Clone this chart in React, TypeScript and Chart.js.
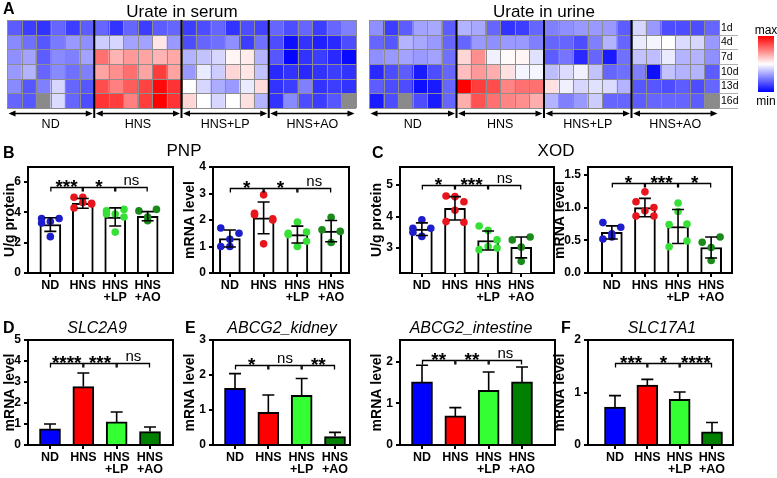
import React, { useEffect, useRef } from 'react';
import { Chart, registerables } from 'chart.js';

Chart.register(...registerables);

const FONT = '"Liberation Sans", Arial, Helvetica, sans-serif';

// ---------------- Heatmap data (0 = min, 1 = max, null = missing) ----------------
const DAYS = ['1d', '4d', '7d', '10d', '13d', '16d'];
const GROUPS = ['ND', 'HNS', 'HNS+LP', 'HNS+AO'];

const SERUM_1D = [0.18, 0.12, 0.1, 0.2, 0.12, 0.18, 0.2, 0.1, 0.2, 0.12, 0.18, 0.2, 0.12, 0.15, 0.2, 0.1, 0.15, 0.13, 0.2, 0.15, 0.2, 0.12, 0.2, 0.25];
const SERUM_4D = [0.27, 0.22, 0.17, 0.24, 0.3, 0.28, 0.4, 0.42, 0.32, 0.32, 0.55, 0.3, 0.15, 0.2, 0.22, 0.28, 0.12, 0.22, 0.15, 0.03, 0.1, 0.06, 0.08, 0.15];
const SERUM_7D = [0.28, 0.32, 0.18, 0.27, 0.25, 0.32, 0.78, 0.65, 0.7, 0.68, 0.65, 0.67, 0.35, 0.38, 0.42, 0.52, 0.54, 0.35, 0.17, 0.01, 0.1, 0.12, 0.08, 0.02];
const SERUM_10D = [0.3, 0.35, 0.2, 0.27, 0.22, 0.25, 0.68, 0.72, 0.78, 0.68, 0.88, 0.68, 0.3, 0.46, 0.4, 0.58, 0.55, 0.38, 0.08, 0.1, 0.08, 0.1, 0.12, 0.1];
const SERUM_13D = [0.27, 0.17, 0.25, 0.42, 0.2, 0.17, 0.85, 0.75, 0.82, 0.87, 0.98, 0.9, 0.5, 0.42, 0.34, 0.3, 0.46, 0.57, 0.1, 0.12, 0.25, 0.1, 0.12, 0.1];
const SERUM_16D = [0.2, 0.17, null, 0.43, 0.2, 0.15, 0.9, 0.88, 0.75, 0.88, 1.0, 0.9, 0.58, 0.5, 0.42, 0.5, 0.56, 0.35, 0.1, 0.27, 0.15, 0.12, 0.17, null];

const URINE_1D = [0.28, 0.12, 0.18, 0.32, 0.33, 0.18, 0.35, 0.33, 0.2, 0.1, 0.12, 0.2, 0.25, 0.28, 0.3, 0.3, 0.3, 0.18, 0.42, 0.3, 0.15, 0.15, 0.15, 0.2];
const URINE_4D = [0.2, 0.17, 0.35, 0.33, 0.3, 0.2, 0.2, 0.3, 0.28, 0.3, 0.3, 0.25, 0.2, 0.2, 0.15, 0.25, 0.35, 0.2, 0.46, 0.48, 0.5, 0.43, 0.42, 0.3];
const URINE_7D = [0.28, 0.3, 0.32, 0.3, 0.32, 0.22, 0.58, 0.72, 0.47, 0.51, 0.52, 0.44, 0.18, 0.23, 0.08, 0.2, 0.05, 0.22, 0.38, 0.37, 0.46, 0.35, 0.35, 0.28];
const URINE_10D = [0.08, 0.15, 0.18, 0.05, 0.15, 0.2, 0.63, 0.7, 0.66, 0.56, 0.48, 0.48, 0.37, 0.43, 0.47, 0.38, 0.2, 0.22, 0.25, 0.03, 0.38, 0.35, 0.35, 0.18];
const URINE_13D = [0.18, 0.15, 0.15, 0.03, 0.05, 0.2, 1.0, 0.88, 0.85, 0.74, 0.78, 0.78, 0.56, 0.47, 0.42, 0.44, 0.43, 0.35, 0.17, 0.17, 0.15, 0.18, 0.15, 0.2];
const URINE_16D = [0.05, 0.15, null, 0.15, 0.05, 0.2, 0.66, 0.84, 0.78, 0.74, 0.72, 0.66, 0.35, 0.25, 0.3, 0.4, 0.2, 0.2, 0.18, 0.2, 0.2, 0.2, 0.18, null];

const SERUM_ROWS = [SERUM_1D, SERUM_4D, SERUM_7D, SERUM_10D, SERUM_13D, SERUM_16D];
const URINE_ROWS = [URINE_1D, URINE_4D, URINE_7D, URINE_10D, URINE_13D, URINE_16D];

// ---------------- Bar chart data ----------------
const X_LABELS = [['ND'], ['HNS'], ['HNS', '+LP'], ['HNS', '+AO']];

const PNP_PROT_MEAN = [3.2, 4.6, 3.7, 3.75];
const PNP_PROT_SD = [0.45, 0.32, 0.6, 0.3];
const PNP_PROT_PTS = [[3.6, 3.6, 3.4, 2.4, 3.3], [5.0, 4.6, 5.0, 4.65, 4.3, 4.55], [4.1, 4.2, 3.9, 2.7, 3.9, 3.7], [4.1, 4.2, 3.7, 3.45]];
const PNP_PROT_SIG = ['***', '*', 'ns'];
const PNP_PROT_TICKS = [0, 2, 4, 6];

const PNP_MRNA_MEAN = [1.3, 2.08, 1.45, 1.58];
const PNP_MRNA_SD = [0.32, 0.6, 0.32, 0.4];
const PNP_MRNA_PTS = [[1.7, 1.5, 1.27, 1.0, 1.0], [2.25, 2.05, 2.95, 1.1, 2.2, 2.0], [1.5, 1.55, 1.92, 1.0, 1.45, 1.2], [1.63, 1.57, 2.1, 1.15]];
const PNP_MRNA_SIG = ['*', '*', 'ns'];
const PNP_MRNA_TICKS = [0, 1, 2, 3, 4];

const XOD_PROT_MEAN = [3.6, 4.26, 3.24, 3.02];
const XOD_PROT_SD = [0.2, 0.37, 0.3, 0.33];
const XOD_PROT_PTS = [[3.63, 3.63, 3.9, 3.37, 3.5], [4.65, 4.47, 4.63, 4.2, 3.84, 3.82], [3.7, 3.26, 3.56, 3.05, 2.95, 3.0], [3.26, 3.35, 3.03, 2.58]];
const XOD_PROT_SIG = ['*', '***', 'ns'];
const XOD_PROT_TICKS = [3, 4, 5];

const XOD_MRNA_MEAN = [0.62, 1.0, 0.71, 0.39];
const XOD_MRNA_SD = [0.1, 0.14, 0.26, 0.16];
const XOD_MRNA_PTS = [[0.77, 0.7, 0.6, 0.55, 0.52], [1.09, 1.0, 1.24, 0.95, 0.87, 0.87], [0.74, 0.75, 1.07, 0.94, 0.4, 0.49], [0.47, 0.55, 0.39, 0.19]];
const XOD_MRNA_SIG = ['*', '***', '*'];
const XOD_MRNA_TICKS = [0, 0.5, 1.0, 1.5];

const SLC2A9_MEAN = [0.77, 2.78, 1.1, 0.64];
const SLC2A9_ERR = [0.23, 0.65, 0.47, 0.22];
const SLC2A9_SIG = ['****', '***', 'ns'];
const SLC2A9_TICKS = [0, 1, 2, 3, 4, 5];

const KIDNEY_MEAN = [1.62, 0.93, 1.42, 0.24];
const KIDNEY_ERR = [0.42, 0.5, 0.48, 0.12];
const KIDNEY_SIG = ['*', 'ns', '**'];
const KIDNEY_TICKS = [0, 1, 2, 3];

const INTEST_MEAN = [1.52, 0.7, 1.32, 1.52];
const INTEST_ERR = [0.4, 0.2, 0.44, 0.36];
const INTEST_SIG = ['**', '**', 'ns'];
const INTEST_TICKS = [0, 1, 2];

const SLC17A1_MEAN = [0.72, 1.14, 0.87, 0.25];
const SLC17A1_ERR = [0.22, 0.11, 0.14, 0.18];
const SLC17A1_SIG = ['***', '*', '****'];
const SLC17A1_TICKS = [0, 1, 2];

// ---------------- styles ----------------
const BAR_COLORS = ['#0000ff', '#ff0000', '#33ff33', '#008000'];
const POINT_COLORS = ['#1d1dcc', '#e8161c', '#36e036', '#1b8a1b'];
const JITTER = [-0.27, 0.27, 0, 0, -0.27, 0.27];

function heatColor(v: number | null) {
  if (v === null || v === undefined) return '#8a8a8a';
  if (v <= 0.5) {
    const t = Math.round((v / 0.5) * 255);
    return `rgb(${t},${t},255)`;
  }
  const t = Math.round((1 - (v - 0.5) / 0.5) * 255);
  return `rgb(255,${t},${t})`;
}

// ---------------- Heatmap panel ----------------
type HeatProps = {
  rows: (number | null)[][];
  left: number;
  width: number;
  padL: number;
  padR: number;
  rowLabels?: boolean;
  legend?: boolean;
};

function HeatPanel({ rows, left, width, padL, padR, rowLabels, legend }: HeatProps) {
  const ref = useRef<HTMLCanvasElement>(null);
  const H = 135;
  useEffect(() => {
    const labels = rows[0].map((_, i) => String(i + 1));
    const datasets = rows.map((row, r) => ({
      label: DAYS[r],
      data: row.map(() => 1),
      backgroundColor: row.map(heatColor),
      borderWidth: 0,
      categoryPercentage: 1,
      barPercentage: 1,
    }));
    const decor = {
      id: 'heatDecor',
      afterDatasetsDraw(chart: any) {
        const { ctx, chartArea: a, scales } = chart;
        const xs = scales.x;
        const ys = scales.y;
        const n = rows[0].length;
        const cw = (a.right - a.left) / n;
        const bx = (i: number) => (i >= n ? xs.getPixelForValue(n - 1) + cw / 2 : xs.getPixelForValue(i) - cw / 2);
        ctx.save();
        // cell grid
        ctx.strokeStyle = '#8e8e8e';
        ctx.lineWidth = 1;
        ctx.beginPath();
        for (let i = 0; i <= n; i++) {
          const x = Math.round(bx(i)) + 0.5;
          ctx.moveTo(x, a.top);
          ctx.lineTo(x, a.bottom);
        }
        for (let r = 0; r <= rows.length; r++) {
          const y = Math.round(ys.getPixelForValue(r)) + 0.5;
          ctx.moveTo(a.left, y);
          ctx.lineTo(a.right, y);
        }
        ctx.stroke();
        // group separators
        ctx.strokeStyle = '#000';
        ctx.lineWidth = 2;
        ctx.beginPath();
        for (let g = 1; g < GROUPS.length; g++) {
          const x = bx(g * 6);
          ctx.moveTo(x, a.top);
          ctx.lineTo(x, a.bottom + 10);
        }
        ctx.stroke();
        // arrows and group labels
        const ay = a.bottom + 5.5;
        ctx.lineWidth = 1.3;
        ctx.fillStyle = '#000';
        GROUPS.forEach((g, gi) => {
          const x1 = bx(gi * 6) + 1.5;
          const x2 = bx(gi * 6 + 6) - 1.5;
          ctx.beginPath();
          ctx.moveTo(x1 + 3, ay);
          ctx.lineTo(x2 - 3, ay);
          ctx.stroke();
          ctx.beginPath();
          ctx.moveTo(x1, ay);
          ctx.lineTo(x1 + 7, ay - 3);
          ctx.lineTo(x1 + 7, ay + 3);
          ctx.closePath();
          ctx.moveTo(x2, ay);
          ctx.lineTo(x2 - 7, ay - 3);
          ctx.lineTo(x2 - 7, ay + 3);
          ctx.closePath();
          ctx.fill();
          ctx.font = `12.5px ${FONT}`;
          ctx.textAlign = 'center';
          ctx.textBaseline = 'alphabetic';
          ctx.fillText(g, (x1 + x2) / 2, a.bottom + 19.5);
        });
        if (rowLabels) {
          ctx.strokeStyle = '#b0b0b0';
          ctx.lineWidth = 1;
          ctx.beginPath();
          for (let r = 1; r <= rows.length; r++) {
            const y = Math.round(ys.getPixelForValue(r)) + 0.5;
            ctx.moveTo(a.right, y);
            ctx.lineTo(a.right + 19, y);
          }
          ctx.stroke();
          ctx.font = `10.5px ${FONT}`;
          ctx.textAlign = 'left';
          ctx.textBaseline = 'middle';
          DAYS.forEach((d, r) => {
            ctx.fillText(d, a.right + 2, ys.getPixelForValue(r + 0.5) + 0.5);
          });
        }
        if (legend) {
          const lx = a.right + 39;
          const top = 36;
          const bot = 92;
          const grad = ctx.createLinearGradient(0, top, 0, bot);
          grad.addColorStop(0, '#ff0000');
          grad.addColorStop(0.5, '#ffffff');
          grad.addColorStop(1, '#0000ff');
          ctx.fillStyle = grad;
          ctx.fillRect(lx, top, 16, bot - top);
          ctx.fillStyle = '#000';
          ctx.font = `12px ${FONT}`;
          ctx.textAlign = 'center';
          ctx.textBaseline = 'alphabetic';
          ctx.fillText('max', lx + 8, 33.5);
          ctx.fillText('min', lx + 8, 104.5);
        }
        ctx.restore();
      },
    };
    const chart = new Chart(ref.current as HTMLCanvasElement, {
      type: 'bar',
      data: { labels, datasets: datasets as any },
      options: {
        animation: false,
        responsive: false,
        events: [],
        layout: { padding: { left: padL, right: padR, top: 20, bottom: H - 108 } },
        plugins: { legend: { display: false }, tooltip: { enabled: false } },
        scales: {
          x: { display: false, stacked: true },
          y: { display: false, stacked: true, min: 0, max: rows.length, reverse: true, bounds: 'data' } as any,
        },
      },
      plugins: [decor],
    });
    return () => chart.destroy();
  }, []);
  return (
    <canvas
      ref={ref}
      width={width}
      height={H}
      style={{ position: 'absolute', left, top: 0, width, height: H }}
    />
  );
}

// ---------------- Bar panel ----------------
type Panel = {
  plot: [number, number, number, number];
  yw: number;
  c0: number;
  c3: number;
  yMin: number;
  yMax: number;
  yTicks: number[];
  yDec: number;
  yTitle: string;
  means: number[];
  errs: number[];
  points?: number[][];
  filled: boolean;
  twoSided: boolean;
  bracketY: number;
  sig: string[];
};

function BarPanel({ p }: { p: Panel }) {
  const ref = useRef<HTMLCanvasElement>(null);
  const [L, T, R, B] = p.plot;
  const padTop = 12;
  const padRight = 3;
  const XH = 38;
  const W = p.yw + (R - L) + padRight;
  const H = padTop + (B - T) + XH;
  useEffect(() => {
    const ppu = (p.c3 - p.c0) / 3;
    const xMin = -(p.c0 - L) / ppu;
    const xMax = 3 + (R - p.c3) / ppu;
    const datasets: any[] = [];
    if (p.points) {
      const pts: any[] = [];
      const cols: string[] = [];
      p.points.forEach((arr, g) =>
        arr.forEach((v, k) => {
          pts.push({ x: g + JITTER[k], y: v });
          cols.push(POINT_COLORS[g]);
        })
      );
      datasets.push({
        type: 'scatter',
        order: 1,
        data: pts,
        pointBackgroundColor: cols,
        pointBorderColor: cols,
        pointBorderWidth: 0,
        pointRadius: 3.8,
        showLine: false,
      });
    }
    datasets.push({
      type: 'bar',
      order: 2,
      data: p.means.map((m, i) => ({ x: i, y: m })),
      backgroundColor: p.filled ? BAR_COLORS : '#ffffff',
      borderColor: '#000',
      borderWidth: 2,
      barThickness: 21,
    });
    const decor = {
      id: 'barDecor',
      afterDatasetsDraw(chart: any) {
        const { ctx, chartArea: a, scales } = chart;
        const x = scales.x;
        const y = scales.y;
        ctx.save();
        ctx.strokeStyle = '#000';
        ctx.lineWidth = 2;
        ctx.beginPath();
        ctx.moveTo(a.left, a.top);
        ctx.lineTo(a.right, a.top);
        ctx.lineTo(a.right, a.bottom);
        ctx.stroke();
        // error bars
        ctx.lineWidth = 1.6;
        p.means.forEach((m, i) => {
          const cx = x.getPixelForValue(i);
          const yt = y.getPixelForValue(m + p.errs[i]);
          const yb = p.twoSided ? y.getPixelForValue(m - p.errs[i]) : y.getPixelForValue(m);
          ctx.beginPath();
          ctx.moveTo(cx, yt);
          ctx.lineTo(cx, yb);
          ctx.moveTo(cx - 6, yt);
          ctx.lineTo(cx + 6, yt);
          if (p.twoSided) {
            ctx.moveTo(cx - 6, yb);
            ctx.lineTo(cx + 6, yb);
          }
          ctx.stroke();
        });
        // significance brackets
        const by = Math.round(y.getPixelForValue(p.bracketY)) + 0.5;
        ctx.lineWidth = 1.3;
        ctx.fillStyle = '#000';
        ctx.textAlign = 'center';
        ctx.textBaseline = 'alphabetic';
        for (let k = 0; k < 3; k++) {
          const x1 = x.getPixelForValue(k);
          const x2 = x.getPixelForValue(k + 1);
          ctx.beginPath();
          ctx.moveTo(x1 + 0.5, by + 4);
          ctx.lineTo(x1 + 0.5, by);
          ctx.lineTo(x2 - 0.5, by);
          ctx.lineTo(x2 - 0.5, by + 4);
          ctx.stroke();
          const s = p.sig[k];
          if (s === 'ns') {
            ctx.font = `15px ${FONT}`;
            ctx.fillText(s, (x1 + x2) / 2, by - 3);
          } else {
            ctx.font = `bold 19px ${FONT}`;
            ctx.fillText(s, (x1 + x2) / 2, by + 5.5);
          }
        }
        ctx.restore();
      },
    };
    const chart = new Chart(ref.current as HTMLCanvasElement, {
      type: 'bar',
      data: { datasets },
      options: {
        animation: false,
        responsive: false,
        events: [],
        layout: { padding: { left: 0, top: padTop, right: padRight, bottom: 0 } },
        plugins: { legend: { display: false }, tooltip: { enabled: false } },
        scales: {
          x: {
            type: 'linear',
            min: xMin,
            max: xMax,
            bounds: 'data',
            offset: false,
            grid: { display: true, drawOnChartArea: false, drawTicks: true, tickLength: 4, color: '#000', lineWidth: 2, offset: false },
            border: { display: true, color: '#000', width: 2 },
            afterBuildTicks: (s: any) => {
              s.ticks = X_LABELS.map((_, i) => ({ value: i }));
            },
            afterFit: (s: any) => {
              s.height = XH;
            },
            ticks: {
              autoSkip: false,
              maxRotation: 0,
              minRotation: 0,
              padding: 2,
              color: '#000',
              font: { family: FONT, size: 12.5, weight: 'bold', lineHeight: 1.0 },
              callback: (v: any) => X_LABELS[Math.round(Number(v))] as any,
            },
          },
          y: {
            type: 'linear',
            min: p.yMin,
            max: p.yMax,
            bounds: 'data',
            grid: { display: true, drawOnChartArea: false, drawTicks: true, tickLength: 4, color: '#000', lineWidth: 2 },
            border: { display: true, color: '#000', width: 2 },
            afterBuildTicks: (s: any) => {
              s.ticks = p.yTicks.map((v) => ({ value: v }));
            },
            afterFit: (s: any) => {
              s.width = p.yw;
            },
            ticks: {
              padding: 3,
              color: '#000',
              font: { family: FONT, size: 12, weight: 'bold' },
              callback: (v: any) => Number(v).toFixed(p.yDec),
            },
            title: {
              display: true,
              text: p.yTitle,
              color: '#000',
              font: { family: FONT, size: 14, weight: 'bold' },
              padding: { top: 2, bottom: 0 },
            },
          },
        } as any,
      },
      plugins: [decor],
    });
    return () => chart.destroy();
  }, []);
  return (
    <canvas
      ref={ref}
      width={W}
      height={H}
      style={{ position: 'absolute', left: L - p.yw, top: T - padTop, width: W, height: H }}
    />
  );
}

const PANELS: Panel[] = [
  { plot: [28, 167, 174, 273], yw: 28, c0: 50.5, c3: 148.5, yMin: 0, yMax: 7, yTicks: PNP_PROT_TICKS, yDec: 0, yTitle: 'U/g protein', means: PNP_PROT_MEAN, errs: PNP_PROT_SD, points: PNP_PROT_PTS, filled: false, twoSided: true, bracketY: 5.67, sig: PNP_PROT_SIG },
  { plot: [213, 167, 350, 273], yw: 33, c0: 230, c3: 332, yMin: 0, yMax: 4, yTicks: PNP_MRNA_TICKS, yDec: 0, yTitle: 'mRNA level', means: PNP_MRNA_MEAN, errs: PNP_MRNA_SD, points: PNP_MRNA_PTS, filled: false, twoSided: true, bracketY: 3.2, sig: PNP_MRNA_SIG },
  { plot: [400, 167, 555, 273], yw: 33, c0: 422, c3: 522, yMin: 2.21, yMax: 5.57, yTicks: XOD_PROT_TICKS, yDec: 0, yTitle: 'U/g protein', means: XOD_PROT_MEAN, errs: XOD_PROT_SD, points: XOD_PROT_PTS, filled: false, twoSided: true, bracketY: 5.0, sig: XOD_PROT_SIG },
  { plot: [588, 167, 733, 273], yw: 38, c0: 612, c3: 712, yMin: 0, yMax: 1.62, yTicks: XOD_MRNA_TICKS, yDec: 1, yTitle: 'mRNA level', means: XOD_MRNA_MEAN, errs: XOD_MRNA_SD, points: XOD_MRNA_PTS, filled: false, twoSided: true, bracketY: 1.37, sig: XOD_MRNA_SIG },
  { plot: [28, 340, 173, 445], yw: 28, c0: 50, c3: 150, yMin: 0, yMax: 5, yTicks: SLC2A9_TICKS, yDec: 0, yTitle: 'mRNA level', means: SLC2A9_MEAN, errs: SLC2A9_ERR, filled: true, twoSided: false, bracketY: 3.9, sig: SLC2A9_SIG },
  { plot: [213, 340, 350, 445], yw: 33, c0: 235, c3: 335, yMin: 0, yMax: 3, yTicks: KIDNEY_TICKS, yDec: 0, yTitle: 'mRNA level', means: KIDNEY_MEAN, errs: KIDNEY_ERR, filled: true, twoSided: false, bracketY: 2.3, sig: KIDNEY_SIG },
  { plot: [400, 340, 555, 445], yw: 33, c0: 422, c3: 522, yMin: 0, yMax: 2.53, yTicks: INTEST_TICKS, yDec: 0, yTitle: 'mRNA level', means: INTEST_MEAN, errs: INTEST_ERR, filled: true, twoSided: false, bracketY: 2.05, sig: INTEST_SIG },
  { plot: [588, 340, 733, 445], yw: 38, c0: 615, c3: 712, yMin: 0, yMax: 2, yTicks: SLC17A1_TICKS, yDec: 0, yTitle: 'mRNA level', means: SLC17A1_MEAN, errs: SLC17A1_ERR, filled: true, twoSided: false, bracketY: 1.57, sig: SLC17A1_SIG },
];

function Txt({ x, y, size, bold, italic, center, children }: any) {
  return (
    <div
      style={{
        position: 'absolute',
        left: x,
        top: y,
        fontSize: size,
        fontWeight: bold ? 'bold' : 'normal',
        fontStyle: italic ? 'italic' : 'normal',
        lineHeight: 1,
        whiteSpace: 'nowrap',
        color: '#000',
        transform: center ? 'translateX(-50%)' : undefined,
      }}
    >
      {children}
    </div>
  );
}

export default function App() {
  return (
    <div
      style={{
        position: 'absolute',
        left: 0,
        top: 0,
        width: 777,
        height: 478,
        overflow: 'hidden',
        background: '#fff',
        fontFamily: FONT,
      }}
    >
      <HeatPanel rows={SERUM_ROWS} left={0} width={368} padL={7} padR={12} />
      <HeatPanel rows={URINE_ROWS} left={360} width={417} padL={9} padR={58} rowLabels legend />
      {PANELS.map((p, i) => (
        <BarPanel key={i} p={p} />
      ))}
      <Txt x={3} y={1} size={16} bold>A</Txt>
      <Txt x={182} y={3} size={17} center>Urate in serum</Txt>
      <Txt x={544} y={3} size={17} center>Urate in urine</Txt>
      <Txt x={3} y={145} size={16} bold>B</Txt>
      <Txt x={184} y={142} size={17} center>PNP</Txt>
      <Txt x={372} y={145} size={16} bold>C</Txt>
      <Txt x={556} y={142} size={17} center>XOD</Txt>
      <Txt x={3} y={320} size={16} bold>D</Txt>
      <Txt x={97} y={320} size={16} italic center>SLC2A9</Txt>
      <Txt x={185} y={320} size={16} bold>E</Txt>
      <Txt x={282} y={320} size={16} italic center>ABCG2_kidney</Txt>
      <Txt x={471} y={320} size={16} italic center>ABCG2_intestine</Txt>
      <Txt x={561} y={320} size={16} bold>F</Txt>
      <Txt x={662} y={320} size={16} italic center>SLC17A1</Txt>
    </div>
  );
}
